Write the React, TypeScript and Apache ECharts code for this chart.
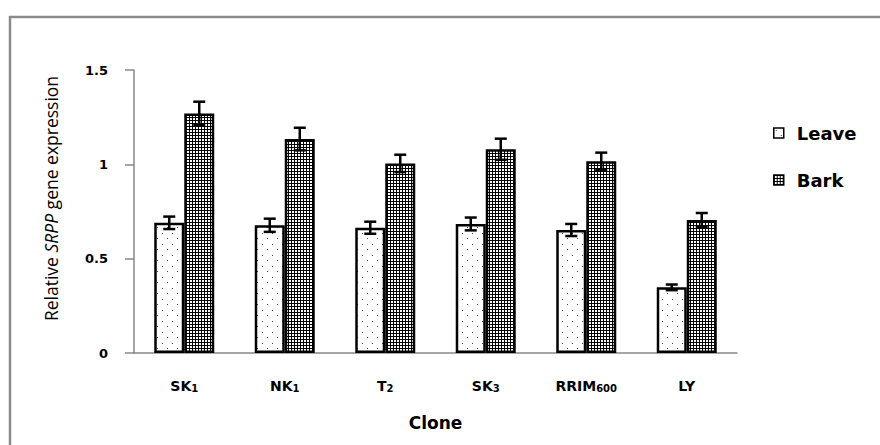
import React, { useEffect, useRef } from 'react';
import * as echarts from 'echarts';

// ---- data ----
const categories = ['SK1', 'NK1', 'T2', 'SK3', 'RRIM600', 'LY'];
const categoryLabels = ['{m|SK}{s|1}', '{m|NK}{s|1}', '{m|T}{s|2}', '{m|SK}{s|3}', '{m|RRIM}{s|600}', '{m|LY}'];
const leaveValues = [0.69, 0.677, 0.664, 0.684, 0.652, 0.348];
const leaveErrors = [0.033, 0.035, 0.032, 0.034, 0.032, 0.015];
const barkValues = [1.27, 1.134, 1.005, 1.08, 1.016, 0.705];
const barkErrors = [0.062, 0.06, 0.046, 0.056, 0.046, 0.037];
const yMin = 0;
const yMax = 1.5;
const yInterval = 0.5;

function makePattern(w: number, h: number, draw: (ctx: CanvasRenderingContext2D) => void) {
  const c = document.createElement('canvas');
  c.width = w;
  c.height = h;
  const ctx = c.getContext('2d')!;
  ctx.fillStyle = '#ffffff';
  ctx.fillRect(0, 0, w, h);
  draw(ctx);
  return { image: c.toDataURL(), repeat: 'repeat', imageWidth: w, imageHeight: h } as any;
}

function errorSeries(name: string, values: number[], errors: number[], offset: number) {
  return {
    type: 'custom',
    name,
    silent: true,
    z: 10,
    data: values.map((v, i) => [i, v, errors[i]]),
    encode: { x: 0, y: 1 },
    renderItem: (params: any, api: any) => {
      const idx = api.value(0);
      const v = api.value(1);
      const e = api.value(2);
      const top = api.coord([idx, v + e]);
      const bot = api.coord([idx, v - e]);
      const x = top[0] + offset;
      const half = 6;
      const st = { stroke: '#000', lineWidth: 2.5 };
      return {
        type: 'group',
        children: [
          { type: 'line', shape: { x1: x, y1: top[1], x2: x, y2: bot[1] }, style: st },
          { type: 'line', shape: { x1: x - half, y1: top[1], x2: x + half, y2: top[1] }, style: st },
          { type: 'line', shape: { x1: x - half, y1: bot[1], x2: x + half, y2: bot[1] }, style: st },
        ],
      };
    },
  };
}

export default function App() {
  const ref = useRef<HTMLDivElement>(null);
  useEffect(() => {
    if (!ref.current) return;
    const chart = echarts.init(ref.current, undefined, { renderer: 'svg' });

    const dotPattern = makePattern(10, 11, (ctx) => {
      ctx.fillStyle = '#444';
      ctx.fillRect(2, 2, 1, 1);
      ctx.fillRect(7, 7, 1, 1);
    });
    const gridPattern = makePattern(6, 6, (ctx) => {
      ctx.fillStyle = '#000';
      ctx.fillRect(0, 0, 6, 1);
      ctx.fillRect(0, 3, 6, 1);
      ctx.fillRect(0, 0, 1, 6);
      ctx.fillRect(3, 0, 1, 6);
    });

    const axisFont = 'DejaVu Sans, Verdana, sans-serif';

    chart.setOption({
      animation: false,
      backgroundColor: '#fff',
      graphic: [
        {
          type: 'rect',
          shape: { x: 10, y: 17, width: 900, height: 500 },
          style: { fill: 'none', stroke: '#8a8a8a', lineWidth: 2.5 },
          silent: true,
        },
      ],
      legend: {
        data: ['Leave', 'Bark'],
        orient: 'vertical',
        left: 773,
        top: 124,
        padding: 0,
        itemWidth: 10,
        itemHeight: 10,
        itemGap: 29,
        icon: 'rect',
        itemStyle: { borderColor: '#000', borderWidth: 1.5 },
        textStyle: {
          fontFamily: axisFont,
          fontWeight: 'bold',
          fontSize: 18,
          color: '#000',
          padding: [0, 0, 0, 8],
        },
      },
      grid: { left: 134, right: 143, top: 70, bottom: 92, containLabel: false },
      xAxis: {
        type: 'category',
        data: categories,
        axisLine: { show: true, lineStyle: { color: '#888', width: 1.5 } },
        axisTick: { show: false },
        axisLabel: {
          interval: 0,
          margin: 23,
          formatter: (_v: string, i: number) => categoryLabels[i],
          rich: {
            m: { fontFamily: axisFont, fontWeight: 'bold', fontSize: 14, color: '#000', lineHeight: 17, verticalAlign: 'bottom' },
            s: { fontFamily: axisFont, fontWeight: 'bold', fontSize: 10, color: '#000', lineHeight: 17, verticalAlign: 'bottom' },
          },
        },
        name: 'Clone',
        nameLocation: 'middle',
        nameGap: 61,
        nameTextStyle: { fontFamily: axisFont, fontWeight: 'bold', fontSize: 17, color: '#000' },
      },
      yAxis: {
        type: 'value',
        min: yMin,
        max: yMax,
        interval: yInterval,
        axisLine: { show: true, lineStyle: { color: '#888', width: 1.5 } },
        axisTick: { show: true, length: 9, lineStyle: { color: '#888', width: 1.5 } },
        splitLine: { show: false },
        axisLabel: { margin: 26, fontFamily: axisFont, fontWeight: 'bold', fontSize: 13, color: '#000' },
        name: 'Relative {i|SRPP} gene expression',
        nameLocation: 'middle',
        nameGap: 74,
        nameTextStyle: {
          fontFamily: 'Open Sans, sans-serif',
          fontSize: 17.5,
          color: '#000',
          padding: [0, 0, 0, 26],
          rich: {
            i: { fontFamily: 'Open Sans, sans-serif', fontSize: 17.5, fontStyle: 'italic', color: '#000' },
          },
        },
      },
      series: [
        {
          type: 'bar',
          name: 'Leave',
          data: leaveValues,
          barWidth: 30,
          barGap: '0%',
          itemStyle: { color: dotPattern, borderColor: '#000', borderWidth: 2.5 },
        },
        {
          type: 'bar',
          name: 'Bark',
          data: barkValues,
          barWidth: 30,
          barGap: '0%',
          itemStyle: { color: gridPattern, borderColor: '#000', borderWidth: 2.5 },
        },
        errorSeries('LeaveErr', leaveValues, leaveErrors, -15),
        errorSeries('BarkErr', barkValues, barkErrors, 15),
      ],
    } as any);
    return () => chart.dispose();
  }, []);
  return <div ref={ref} style={{ position: 'absolute', left: 0, top: 0, width: 880, height: 445 }} />;
}
